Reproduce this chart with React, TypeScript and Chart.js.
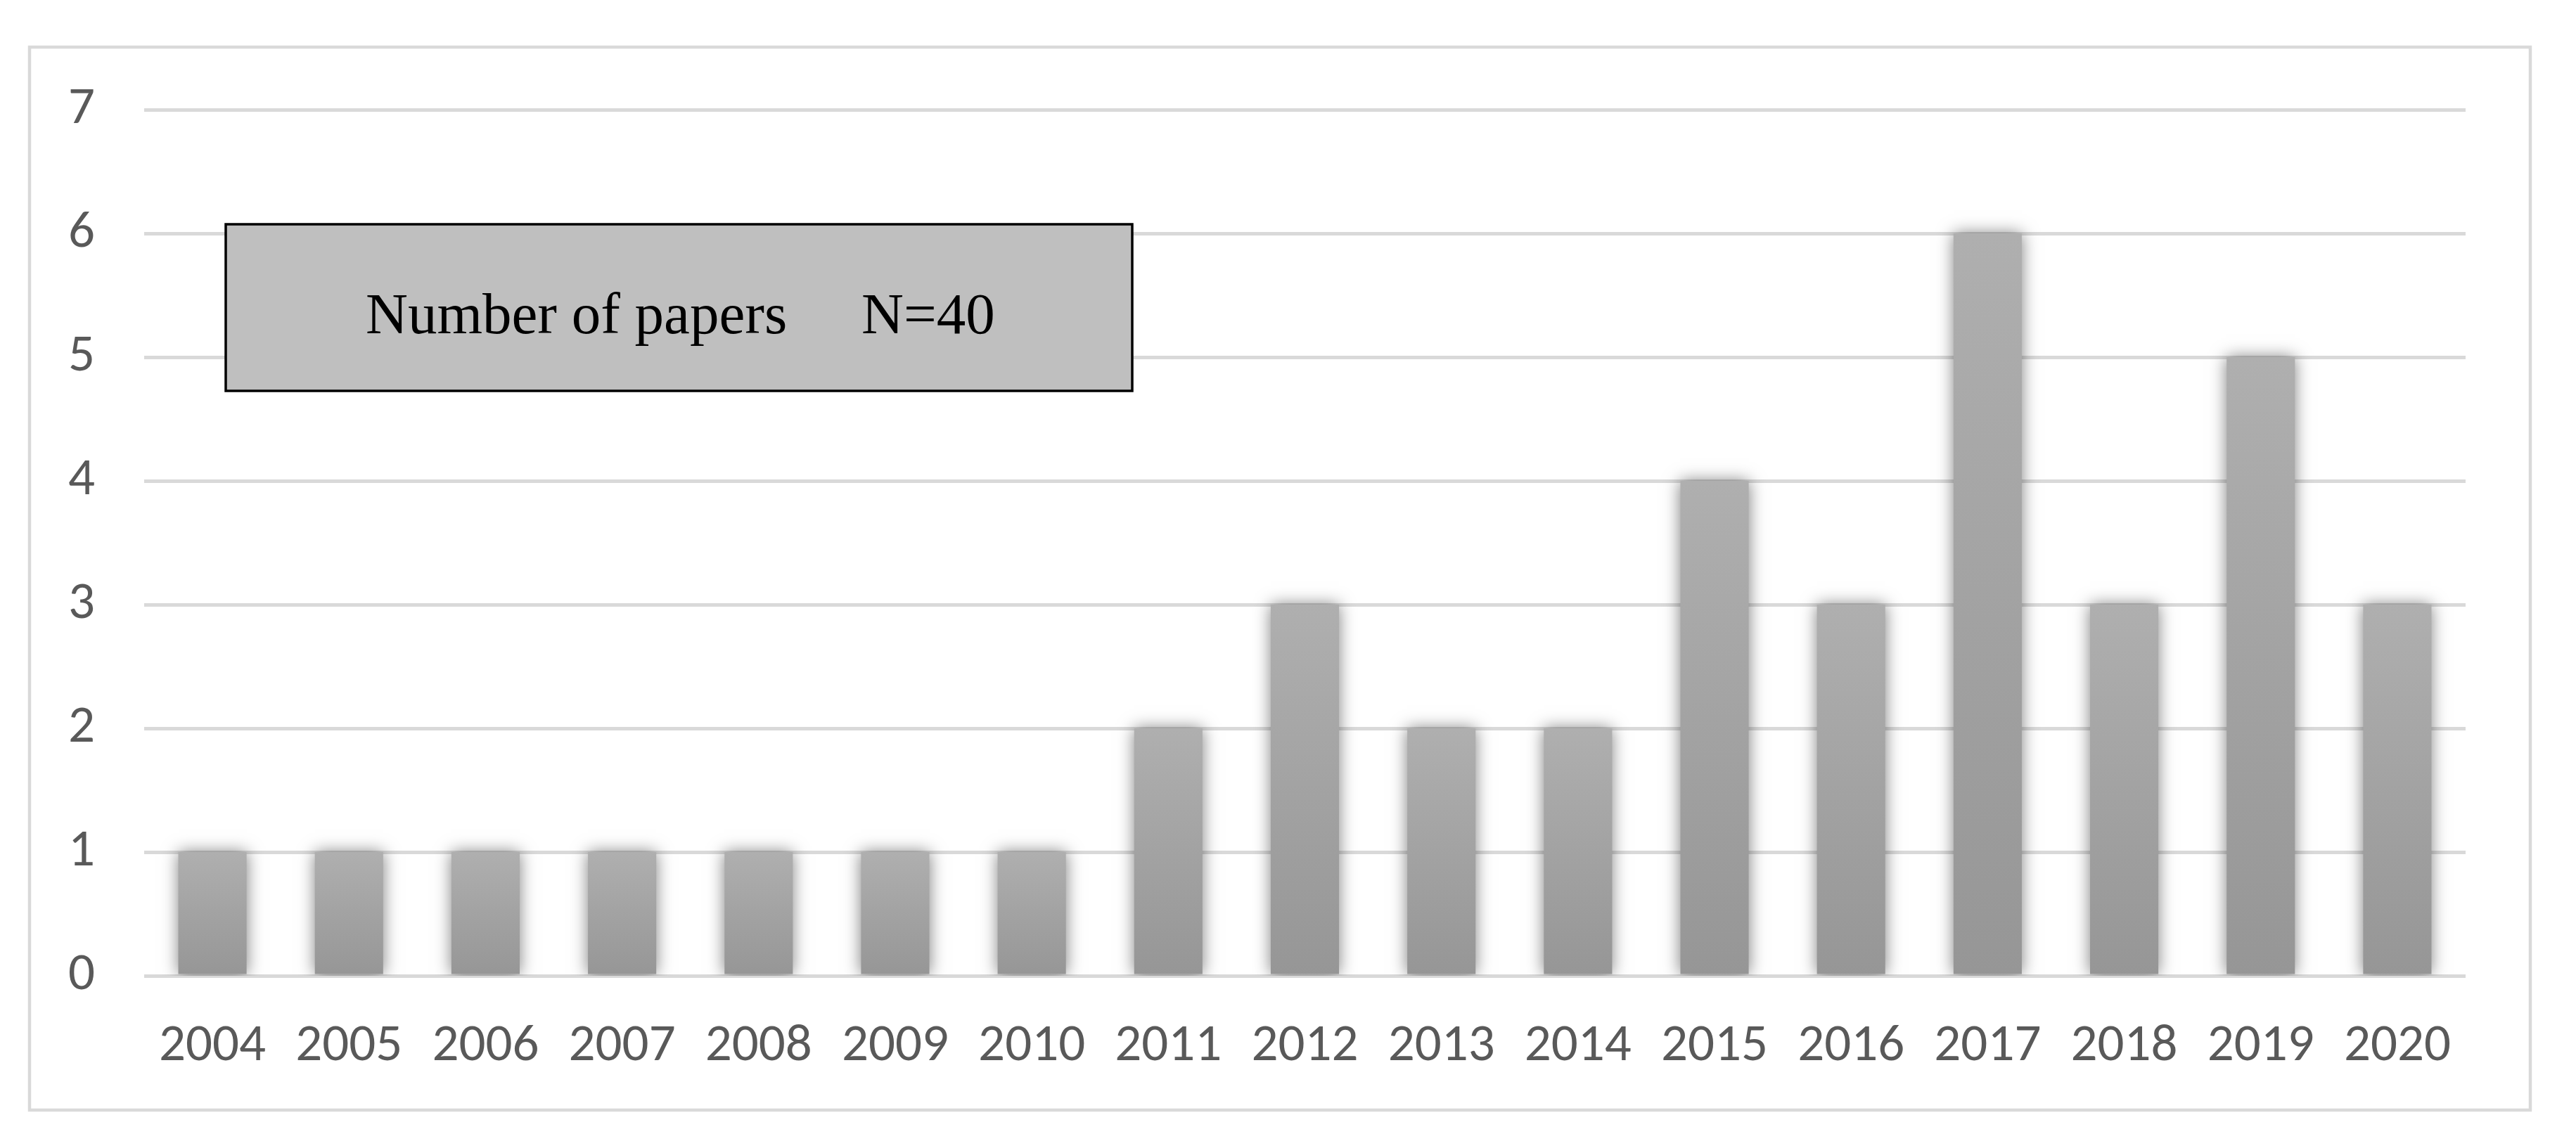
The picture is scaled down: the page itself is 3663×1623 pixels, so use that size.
import React, { useEffect, useRef } from 'react';
import { Chart, registerables } from 'chart.js';

Chart.register(...registerables);

const years = ['2004', '2005', '2006', '2007', '2008', '2009', '2010', '2011', '2012', '2013', '2014', '2015', '2016', '2017', '2018', '2019', '2020'];
const papers = [1, 1, 1, 1, 1, 1, 1, 2, 3, 2, 2, 4, 3, 6, 3, 5, 3];
const yTicks = [0, 1, 2, 3, 4, 5, 6, 7];
const legendLabel = 'Number of papers';
const legendTotal = 'N=40';

const W = 3663;
const H = 1623;
const TICK_FONT = 'Carlito, "Open Sans", Lato, sans-serif';

const framePlugin = {
  id: 'frameAndNote',
  beforeDraw(chart: any) {
    const ctx = chart.ctx;
    ctx.save();
    ctx.fillStyle = '#ffffff';
    ctx.fillRect(0, 0, chart.width, chart.height);
    ctx.strokeStyle = '#d9d9d9';
    ctx.lineWidth = 4.5;
    ctx.strokeRect(42, 67, 3556, 1512);
    ctx.restore();
  },
  beforeDatasetsDraw(chart: any) {
    const ctx = chart.ctx;
    ctx.save();
    ctx.shadowColor = 'rgba(0,0,0,0.5)';
    ctx.shadowBlur = 22;
    ctx.shadowOffsetX = 0;
    ctx.shadowOffsetY = 0;
  },
  afterDatasetsDraw(chart: any) {
    chart.ctx.restore();
  },
  afterDraw(chart: any) {
    const ctx = chart.ctx;
    ctx.save();
    ctx.fillStyle = '#bfbfbf';
    ctx.fillRect(321, 319, 1289, 237);
    ctx.strokeStyle = '#000000';
    ctx.lineWidth = 3.5;
    ctx.strokeRect(321, 319, 1289, 237);
    ctx.fillStyle = '#000000';
    ctx.font = '83px "Liberation Serif", "Times New Roman", serif';
    ctx.textBaseline = 'alphabetic';
    ctx.textAlign = 'left';
    ctx.fillText(legendLabel, 520, 474);
    ctx.fillText(legendTotal, 1225, 474);
    ctx.restore();
  },
};

export default function App() {
  const canvasRef = useRef<HTMLCanvasElement | null>(null);

  useEffect(() => {
    document.body.style.overflow = 'hidden';
    const canvas = canvasRef.current;
    if (!canvas) return;
    const chart = new Chart(canvas, {
      type: 'bar',
      data: {
        labels: years,
        datasets: [
          {
            label: legendLabel,
            data: papers,
            backgroundColor: (c: any) => {
              const ch = c.chart;
              const ys = ch.scales && ch.scales.y;
              if (!ys || c.type !== 'data') return '#a3a3a3';
              const y0 = ys.getPixelForValue(0);
              const y1 = ys.getPixelForValue(c.raw);
              if (!isFinite(y0) || !isFinite(y1) || y0 === y1) return '#a3a3a3';
              const g = ch.ctx.createLinearGradient(0, y1, 0, y0);
              g.addColorStop(0, '#afafaf');
              g.addColorStop(1, '#969696');
              return g;
            },
            borderWidth: 0,
            barPercentage: 0.5,
            categoryPercentage: 1,
          },
        ],
      },
      options: {
        responsive: false,
        animation: false,
        devicePixelRatio: 1,
        layout: { padding: { left: 0, right: W - 3506, top: 156, bottom: 0 } },
        plugins: {
          legend: { display: false },
          tooltip: { enabled: false },
          title: { display: false },
        },
        scales: {
          x: {
            grid: { display: false, drawTicks: false },
            border: { display: false },
            ticks: {
              color: '#595959',
              font: { family: TICK_FONT, size: 75 },
              padding: 56,
              maxRotation: 0,
              autoSkip: false,
            },
            afterFit: (s: any) => {
              s.height = 235;
              s.paddingLeft = 0;
              s.paddingRight = 0;
            },
          },
          y: {
            min: 0,
            max: 7,
            grid: { color: '#d9d9d9', lineWidth: 5, drawTicks: false },
            border: { display: false },
            ticks: {
              color: '#595959',
              font: { family: TICK_FONT, size: 75 },
              padding: 70,
              stepSize: 1,
            },
            afterBuildTicks: (s: any) => {
              s.ticks = yTicks.map((v) => ({ value: v }));
            },
            afterFit: (s: any) => {
              s.width = 205;
              s.paddingTop = 0;
              s.paddingBottom = 0;
            },
          },
        },
      },
      plugins: [framePlugin],
    });
    return () => chart.destroy();
  }, []);

  return (
    <div style={{ position: 'absolute', left: 0, top: 0, width: W, height: H }}>
      <canvas ref={canvasRef} width={W} height={H} style={{ display: 'block' }} />
    </div>
  );
}
